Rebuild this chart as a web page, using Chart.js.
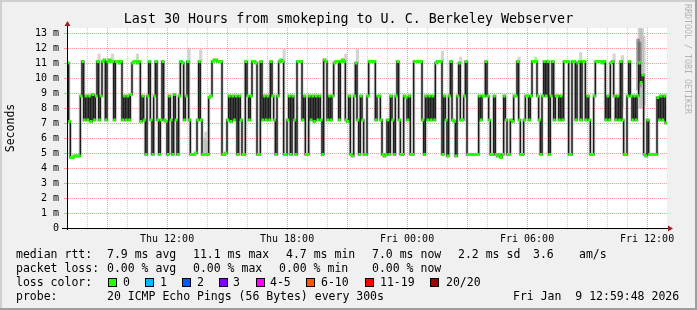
<!DOCTYPE html>
<html lang="en">
<head>
<meta charset="UTF-8">
<title>Last 30 Hours from smokeping to U. C. Berkeley Webserver</title>
<script src="https://cdn.jsdelivr.net/npm/chart.js"></script>
<style>
    html, body {
        margin: 0;
        padding: 0;
        background: #f0f0f0;
        overflow: hidden;
    }
    .graph {
        position: relative;
        width: 697px;
        height: 310px;
        font-family: 'DejaVu Sans Mono', monospace;
    }
    canvas {
        position: absolute;
        left: 0;
        top: 0;
    }
    .title {
        position: absolute;
        left: 0;
        top: 11px;
        width: 697px;
        text-align: center;
        font-size: 13.33px;
        line-height: 16px;
        color: #000;
        white-space: pre;
    }
    .legend span {
        position: absolute;
        white-space: pre;
        font-size: 11.5px;
        line-height: 14px;
        color: #000;
    }
    .legend span.box {
        width: 7px;
        height: 7px;
        border: 1px solid #000;
    }
    .watermark {
        position: absolute;
        left: 683px;
        top: 4px;
        writing-mode: vertical-rl;
        font-size: 8.3px;
        color: #b3b3b3;
        white-space: pre;
    }
</style>
</head>
<body>
<div class="graph">
    <canvas id="rtt" width="697" height="310"></canvas>
    <div class="title">Last 30 Hours from smokeping to U. C. Berkeley Webserver</div>
    <div class="watermark">RRDTOOL / TOBI OETIKER</div>
    <div class="legend">
        <span style="left:16px;top:247px">median rtt:</span>
        <span style="left:107px;top:247px">7.9 ms avg</span>
        <span style="left:193px;top:247px">11.1 ms max</span>
        <span style="left:286px;top:247px">4.7 ms min</span>
        <span style="left:372px;top:247px">7.0 ms now</span>
        <span style="left:458px;top:247px">2.2 ms sd</span>
        <span style="left:533px;top:247px">3.6</span>
        <span style="left:579px;top:247px">am/s</span>

        <span style="left:16px;top:261px">packet loss:</span>
        <span style="left:107px;top:261px">0.00 % avg</span>
        <span style="left:193px;top:261px">0.00 % max</span>
        <span style="left:279px;top:261px">0.00 % min</span>
        <span style="left:372px;top:261px">0.00 % now</span>

        <span style="left:16px;top:275px">loss color:</span>
        <span class="box" style="left:108px;top:278px;background:#26ff00"></span><span style="left:123px;top:275px">0</span>
        <span class="box" style="left:145px;top:278px;background:#00b8ff"></span><span style="left:160px;top:275px">1</span>
        <span class="box" style="left:182px;top:278px;background:#0059ff"></span><span style="left:197px;top:275px">2</span>
        <span class="box" style="left:219px;top:278px;background:#7e00ff"></span><span style="left:233px;top:275px">3</span>
        <span class="box" style="left:256px;top:278px;background:#ff00ff"></span><span style="left:270px;top:275px">4-5</span>
        <span class="box" style="left:306px;top:278px;background:#ff5500"></span><span style="left:321px;top:275px">6-10</span>
        <span class="box" style="left:365px;top:278px;background:#ff0000"></span><span style="left:380px;top:275px">11-19</span>
        <span class="box" style="left:430px;top:278px;background:#a10000"></span><span style="left:446px;top:275px">20/20</span>

        <span style="left:16px;top:289px">probe:</span>
        <span style="left:107px;top:289px">20 ICMP Echo Pings (56 Bytes) every 300s</span>
        <span style="left:513px;top:289px">Fri Jan  9 12:59:48 2026</span>
    </div>
</div>

<script>
    // median rtt in ms, one value per 300 s step, Thu 06:59:48 .. Fri 12:59:48 (12 per hour)
    const median = [
        11.0, 7.1, 4.7, 4.7, 4.8, 4.8, 4.8, 4.8, 8.8, 11.1, 7.2, 8.8,
        7.2, 8.8, 7.1, 8.9, 7.2, 8.8, 11.1, 7.2, 8.8, 11.1, 11.2, 7.2,
        11.1, 11.2, 11.1, 11.1, 7.2, 11.1, 11.1, 11.0, 11.1, 7.2, 8.8, 7.2,
        8.8, 7.2, 8.9, 11.0, 11.1, 11.1, 11.0, 11.1, 7.1, 8.8, 7.2, 4.9,
        8.8, 11.1, 7.2, 4.9, 8.8, 11.1, 7.2, 4.9, 7.2, 11.1, 7.2, 7.1,
        4.9, 8.8, 7.2, 4.9, 8.9, 7.2, 4.9, 8.8, 11.1, 11.0, 7.2, 8.8,
        11.1, 7.2, 4.9, 4.9, 4.9, 5.0, 7.2, 11.1, 7.2, 4.9, 4.9, 4.9,
        4.9, 8.7, 8.8, 11.1, 11.2, 11.2, 11.1, 11.1, 11.1, 4.9, 4.9, 5.0,
        7.2, 8.8, 7.1, 8.8, 7.2, 8.8, 4.9, 8.8, 7.2, 4.9, 4.9, 11.1,
        8.8, 7.2, 8.8, 11.1, 11.1, 11.0, 4.9, 4.9, 11.1, 7.2, 8.8, 7.2,
        8.8, 7.2, 11.1, 8.8, 7.2, 4.9, 8.8, 11.1, 11.2, 11.1, 4.9, 4.9,
        7.2, 8.8, 4.9, 8.8, 7.2, 4.9, 11.1, 11.1, 11.1, 7.2, 8.8, 4.9,
        4.9, 8.8, 7.2, 8.8, 7.1, 8.8, 7.2, 8.8, 7.2, 4.9, 11.2, 11.1,
        7.2, 8.8, 7.2, 8.8, 11.0, 11.1, 11.1, 7.2, 11.1, 11.2, 11.1, 7.2,
        7.1, 8.8, 4.9, 4.8, 8.8, 11.0, 7.2, 4.9, 8.8, 7.2, 4.9, 4.9,
        8.8, 11.1, 11.1, 11.1, 11.1, 7.2, 8.8, 8.8, 7.2, 4.9, 4.8, 4.9,
        7.2, 4.9, 8.8, 7.2, 4.9, 8.8, 11.1, 7.2, 4.9, 4.9, 8.8, 8.7,
        7.2, 8.8, 4.9, 4.9, 11.1, 11.1, 11.1, 11.1, 11.1, 7.2, 4.9, 8.8,
        7.2, 8.8, 7.2, 8.8, 7.2, 11.0, 11.1, 11.1, 11.1, 4.9, 8.8, 7.2,
        4.8, 8.8, 11.1, 7.2, 7.1, 4.8, 8.8, 11.0, 7.2, 7.2, 8.8, 11.1,
        4.9, 4.9, 4.9, 4.9, 4.9, 4.9, 4.9, 8.8, 7.2, 8.8, 8.8, 11.1,
        8.8, 7.2, 4.9, 4.9, 8.8, 4.9, 4.8, 4.9, 4.7, 4.9, 8.8, 7.2,
        4.9, 4.9, 7.2, 7.1, 8.8, 8.8, 11.1, 7.2, 4.9, 4.9, 7.2, 8.8,
        8.8, 7.2, 8.8, 11.1, 11.1, 11.1, 8.8, 7.2, 4.9, 8.8, 11.1, 8.8,
        11.1, 4.9, 8.8, 11.1, 7.2, 8.8, 8.8, 7.2, 8.8, 7.2, 11.1, 11.1,
        11.1, 4.9, 4.9, 11.1, 11.1, 7.2, 11.0, 11.1, 7.2, 11.1, 11.1, 7.2,
        8.8, 7.2, 4.9, 4.9, 8.8, 11.1, 11.1, 11.1, 11.1, 11.0, 11.1, 7.2,
        8.8, 7.2, 11.0, 11.1, 8.8, 7.2, 8.8, 7.2, 11.1, 7.2, 4.9, 4.9,
        8.8, 11.1, 8.8, 7.2, 8.8, 7.2, 8.8, 11.0, 9.7, 10.2, 4.9, 4.8,
        7.2, 4.9, 4.9, 4.9, 4.9, 4.9, 8.7, 7.2, 8.8, 7.2, 8.8, 7.0
    ];

    // ping spread (smoke) where it sticks out clearly
    const smokeIdx  = [18, 26, 41, 72, 79, 81, 82, 83, 129, 166, 173, 224, 235, 270, 280, 307, 327, 332, 342, 343, 344, 345];
    const smokeLow  = [11.1, 11.1, 11.1, 11.1, 11.1, 4.9, 4.9, 4.9, 11.1, 11.1, 11.0, 11.1, 11.0, 11.1, 11.1, 11.1, 11.1, 8.0, 8.0, 8.0, 8.0, 8.2];
    const smokeHigh = [11.6, 11.6, 11.6, 12.0, 11.9, 6.0, 6.4, 5.8, 11.9, 11.6, 11.9, 11.8, 11.4, 11.4, 11.4, 11.7, 11.6, 11.5, 13.3, 13.3, 13.3, 12.8];
    const denseIdx  = [343, 344];
    const denseLow  = [9.2, 9.4];
    const denseHigh = [12.6, 12.4];

    // x axis: samples since Thu 06:59:48, hour lines at xx:00
    const steps = 360;
    const firstHour = 7;            // 07:00 is the first full hour
    const hourOffset = 0.04;        // 12 s after start, in 300 s steps
    const tickPos = [60, 132, 204, 276, 348];
    const tickLabels = ['Thu 12:00', 'Thu 18:00', 'Fri 00:00', 'Fri 06:00', 'Fri 12:00'];
    const yLabelStep = 1;           // ms

    const FONT = 'DejaVu Sans Mono';
    const MAJOR = '#f4a0a0';
    const MINOR = '#cdcdcd';

    const hourTicks = [];
    for (let h = 1; h < 30; h++) hourTicks.push({ value: h * 12 + hourOffset });
    const yTicks = [];
    for (let v = 0; v <= 13; v += 0.5) yTicks.push({ value: v });

    const linePts = median.map((v, i) => ({ x: i, y: v }));
    linePts.push({ x: steps, y: median[median.length - 1] });
    const dotPts = median.map((v, i) => ({ x: i + 0.5, y: v }));

    function isRedHour(value) {
        const h = Math.round((value - hourOffset) / 12);
        return (firstHour + h) % 3 === 0;
    }

    // rrd style frame, white canvas, axis arrows
    const framePlugin = {
        id: 'frame',
        beforeDraw(chart) {
            const { ctx, chartArea: a, width, height } = chart;
            ctx.save();
            ctx.fillStyle = '#f0f0f0';
            ctx.fillRect(0, 0, width, height);
            ctx.fillStyle = '#ffffff';
            ctx.fillRect(a.left, a.top, a.right - a.left, a.bottom - a.top);
            ctx.fillStyle = '#cfcfcf';
            ctx.fillRect(0, 0, width, 2);
            ctx.fillRect(0, 0, 2, height);
            ctx.fillStyle = '#9e9e9e';
            ctx.fillRect(0, height - 2, width, 2);
            ctx.fillRect(width - 2, 0, 2, height);
            ctx.restore();
        },
        afterDatasetsDraw(chart) {
            const { ctx, chartArea: a } = chart;
            const x0 = Math.round(a.left) + 0.5;
            const y0 = Math.round(a.bottom) + 0.5;
            ctx.save();
            ctx.strokeStyle = '#000';
            ctx.lineWidth = 1;
            ctx.beginPath();
            ctx.moveTo(a.left - 5, y0);
            ctx.lineTo(a.right + 3, y0);
            ctx.moveTo(x0, a.bottom + 2);
            ctx.lineTo(x0, a.top - 5);
            ctx.stroke();
            ctx.fillStyle = '#9b2020';
            ctx.beginPath();
            ctx.moveTo(a.right + 1, y0 - 3);
            ctx.lineTo(a.right + 6, y0);
            ctx.lineTo(a.right + 1, y0 + 3);
            ctx.closePath();
            ctx.fill();
            ctx.beginPath();
            ctx.moveTo(x0 - 3, a.top - 2);
            ctx.lineTo(x0, a.top - 7);
            ctx.lineTo(x0 + 3, a.top - 2);
            ctx.closePath();
            ctx.fill();
            ctx.restore();
        }
    };

    const ctx = document.getElementById('rtt').getContext('2d');
    const rttChart = new Chart(ctx, {
        type: 'line',
        data: {
            datasets: [
                {
                    type: 'bar',
                    data: denseIdx.map((x, i) => ({ x: x + 0.5, y: [denseLow[i], denseHigh[i]] })),
                    backgroundColor: 'rgba(90,90,90,0.55)',
                    barThickness: 3,
                    order: 5
                },
                {
                    type: 'bar',
                    data: smokeIdx.map((x, i) => ({ x: x + 0.5, y: [smokeLow[i], smokeHigh[i]] })),
                    backgroundColor: 'rgba(170,170,170,0.5)',
                    barThickness: 2.5,
                    order: 6
                },
                {
                    // smoke halo round the median
                    data: linePts,
                    stepped: 'before',
                    borderColor: 'rgba(185,185,185,0.55)',
                    borderWidth: 3.5,
                    pointRadius: 0,
                    order: 4
                },
                {
                    data: linePts,
                    stepped: 'before',
                    borderColor: '#1c1c1c',
                    borderWidth: 1.5,
                    pointRadius: 0,
                    order: 3
                },
                {
                    // loss colour (0 lost) on each sample
                    data: dotPts,
                    showLine: false,
                    pointStyle: 'line',
                    pointRadius: 1.3,
                    pointBorderWidth: 3,
                    pointBorderColor: '#26ff00',
                    pointBackgroundColor: '#26ff00',
                    order: 1
                }
            ]
        },
        options: {
            responsive: false,
            animation: false,
            events: [],
            layout: {
                autoPadding: false,
                padding: { left: 0, right: 30, top: 28, bottom: 62 }
            },
            plugins: {
                legend: { display: false },
                tooltip: { enabled: false },
                title: { display: false }
            },
            scales: {
                x: {
                    type: 'linear',
                    min: 0,
                    max: steps,
                    offset: false,
                    afterBuildTicks: (s) => { s.ticks = hourTicks.map(t => ({ value: t.value })); },
                    afterFit: (s) => { s.height = 20; },
                    grid: {
                        offset: false,
                        color: (c) => (c.tick && isRedHour(c.tick.value)) ? MAJOR : MINOR,
                        drawTicks: true,
                        tickLength: 2
                    },
                    border: { display: true, color: '#000', width: 1, dash: [1, 1] },
                    ticks: {
                        autoSkip: false,
                        maxRotation: 0,
                        padding: 3,
                        color: '#000',
                        font: { family: FONT, size: 10 },
                        callback: (v) => {
                            const k = tickPos.indexOf(Math.round(v));
                            return k >= 0 ? tickLabels[k] : '';
                        }
                    }
                },
                y: {
                    min: 0,
                    max: 200 / 15,
                    afterBuildTicks: (s) => { s.ticks = yTicks.map(t => ({ value: t.value })); },
                    afterFit: (s) => { s.width = 67; },
                    grid: {
                        color: (c) => {
                            if (!c.tick || c.tick.value === 0) return 'rgba(0,0,0,0)';
                            return Number.isInteger(c.tick.value / yLabelStep) ? MAJOR : MINOR;
                        },
                        drawTicks: true,
                        tickLength: 3
                    },
                    border: { display: true, color: '#000', width: 1, dash: [1, 1] },
                    title: {
                        display: true,
                        text: 'Seconds',
                        color: '#000',
                        font: { family: FONT, size: 11.5 },
                        padding: { top: 4, bottom: 0 }
                    },
                    ticks: {
                        padding: 5,
                        color: '#000',
                        font: { family: FONT, size: 10 },
                        callback: (v) => {
                            if (!Number.isInteger(v)) return '';
                            return v === 0 ? '0' : v + ' m';
                        }
                    }
                }
            }
        },
        plugins: [framePlugin]
    });
</script>
</body>
</html>
